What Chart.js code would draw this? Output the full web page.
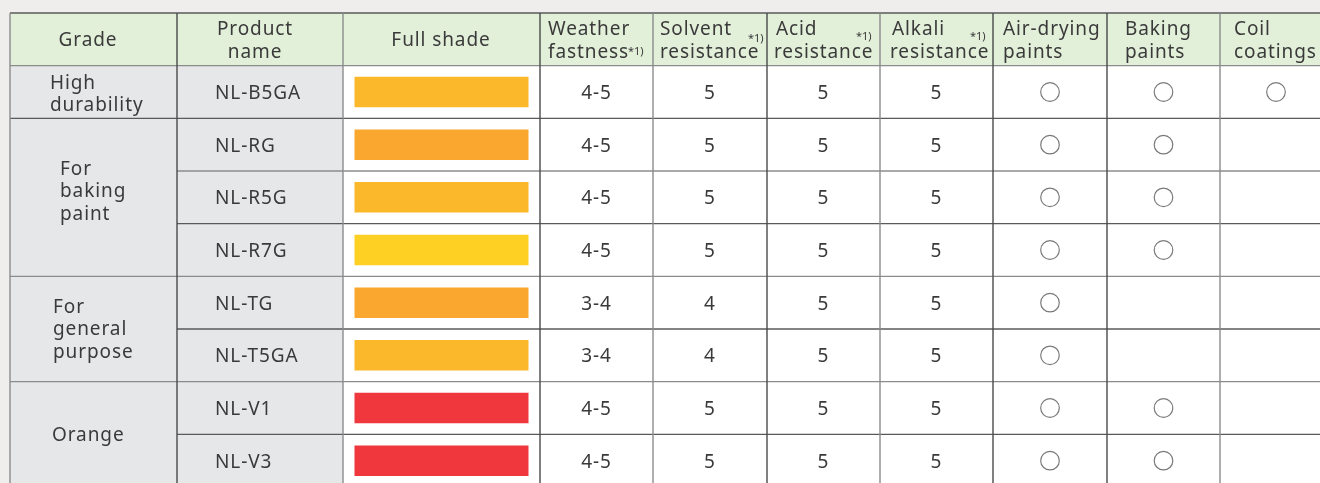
<!DOCTYPE html>
<html>
<head>
<meta charset="utf-8">
<script src="https://cdn.jsdelivr.net/npm/chart.js@4"></script>
<style>
  html, body { margin: 0; padding: 0; background: #efeeed; overflow: hidden; }
  #wrap { position: relative; width: 1320px; height: 500px; }
</style>
</head>
<body>
<div id="wrap"><canvas id="table"></canvas></div>
<script>
// --- data ---
const products = ['NL-B5GA', 'NL-RG', 'NL-R5G', 'NL-R7G', 'NL-TG', 'NL-T5GA', 'NL-V1', 'NL-V3'];
const shadeColors = ['#fbb82b', '#f9a72f', '#fbb82b', '#fed023', '#f9a72f', '#fbb82b', '#ef373d', '#ef373d'];
const weather = ['4-5', '4-5', '4-5', '4-5', '3-4', '3-4', '4-5', '4-5'];
const solvent = [5, 5, 5, 5, 4, 4, 5, 5];
const acid = [5, 5, 5, 5, 5, 5, 5, 5];
const alkali = [5, 5, 5, 5, 5, 5, 5, 5];
const airDrying = [1, 1, 1, 1, 1, 1, 1, 1];
const baking = [1, 1, 1, 1, 0, 0, 1, 1];
const coil = [1, 0, 0, 0, 0, 0, 0, 0];
const grades = [['High', 'durability'], ['For', 'baking', 'paint'], ['For', 'general', 'purpose'], ['Orange']];
const gradeSpans = [1, 3, 2, 2];
const headers = [['Grade'], ['Product', 'name'], ['Full shade'], ['Weather', 'fastness'], ['Solvent', 'resistance'],
    ['Acid', 'resistance'], ['Alkali', 'resistance'], ['Air-drying', 'paints'], ['Baking', 'paints'], ['Coil', 'coatings']];
const noteMark = '*1)';

// --- layout ---
const colEdges = [10, 177, 343, 540, 653, 767, 880, 993, 1107, 1220, 1332];
const headerX = [[88], [255, 255], [441], [548, 548], [660, 660], [776, 774], [892, 890], [1003, 1003], [1125, 1125], [1234, 1234]];
// x, baseline offset from table top
const noteX = { 3: [628, 42], 4: [748, 29], 5: [856, 27], 6: [970, 27] };
const gradeX = [50, 60, 53, 52];
const gradeDy = [2, -6, 0, 1];
const swatchInset = 11.5;
const FONT = '"Noto Sans", "DejaVu Sans", sans-serif';
const TEXT = '#3a3a3a';
const LINE_DARK = '#4a4a4a';
const LINE_GRAY = '#8c8c8c';
const vLineColors = [LINE_GRAY, LINE_DARK, LINE_GRAY, LINE_DARK, LINE_GRAY, LINE_DARK, LINE_GRAY, LINE_DARK, LINE_DARK, LINE_GRAY];

const rowLabels = [''].concat(products);
const colCenter = (c) => (colEdges[c] + colEdges[c + 1]) / 2;

// circles for the usage columns
const usePoints = [];
[airDrying, baking, coil].forEach((flags, k) => {
    flags.forEach((f, i) => {
        if (f) usePoints.push({ x: colCenter(7 + k), y: products[i] });
    });
});

const drawText = (ctx, str, px, py, align, size) => {
    ctx.font = `${size}px ${FONT}`;
    ctx.letterSpacing = size > 14 ? '0.9px' : '0px';
    ctx.textAlign = align;
    ctx.textBaseline = 'alphabetic';
    ctx.fillStyle = TEXT;
    ctx.fillText(str, px, py);
}

const tablePlugin = {
    id: 'tablePlugin',
    beforeDatasetsDraw(chart) {
        const { ctx, scales: { x, y } } = chart;
        const band = y.getPixelForValue(1) - y.getPixelForValue(0);
        const rowTop = (i) => y.getPixelForValue(i) - band / 2;
        const left = x.getPixelForValue(colEdges[0]);
        const right = x.getPixelForValue(colEdges[colEdges.length - 1]);
        ctx.save();
        // backgrounds
        ctx.fillStyle = '#e2efd9';
        ctx.fillRect(left, rowTop(0), right - left, band);
        ctx.fillStyle = '#e6e7e9';
        ctx.fillRect(left, rowTop(1), x.getPixelForValue(colEdges[2]) - left, band * products.length);
        ctx.fillStyle = '#ffffff';
        ctx.fillRect(x.getPixelForValue(colEdges[2]), rowTop(1), right - x.getPixelForValue(colEdges[2]), band * products.length);

        // horizontal lines
        ctx.lineWidth = 1.4;
        const groupStarts = [];
        let r = 1;
        gradeSpans.forEach(s => { groupStarts.push(r); r += s; });
        for (let k = 0; k <= rowLabels.length; k++) {
            const py = rowTop(k);
            const fullRow = k <= 1 || groupStarts.includes(k) || k === rowLabels.length;
            const x0 = fullRow ? left : x.getPixelForValue(colEdges[1]);
            ctx.strokeStyle = k % 2 ? LINE_GRAY : '#5a5a5a';
            ctx.beginPath();
            ctx.moveTo(x0, py);
            ctx.lineTo(right, py);
            ctx.stroke();
        }
        // vertical lines
        colEdges.slice(0, -1).forEach((e, c) => {
            const px = x.getPixelForValue(e);
            ctx.strokeStyle = vLineColors[c];
            ctx.beginPath();
            ctx.moveTo(px, rowTop(0));
            ctx.lineTo(px, rowTop(rowLabels.length));
            ctx.stroke();
        });
        ctx.restore();
    },
    afterDatasetsDraw(chart) {
        const { ctx, scales: { x, y } } = chart;
        const band = y.getPixelForValue(1) - y.getPixelForValue(0);
        const hy = y.getPixelForValue(0);
        const top = hy - band / 2;
        ctx.save();
        // header
        headers.forEach((lines, c) => {
            const align = c < 3 ? 'center' : 'left';
            if (lines.length === 1) {
                drawText(ctx, lines[0], x.getPixelForValue(headerX[c][0]), hy + 7, align, 19);
            } else {
                lines.forEach((t, j) => {
                    drawText(ctx, t, x.getPixelForValue(headerX[c][j]), hy - 4 + j * 23, align, 19);
                });
            }
            if (noteX[c]) {
                drawText(ctx, noteMark, x.getPixelForValue(noteX[c][0]), top + noteX[c][1], 'left', 11);
            }
        });
        // grade groups
        let r = 1;
        grades.forEach((lines, g) => {
            const center = (y.getPixelForValue(r) + y.getPixelForValue(r + gradeSpans[g] - 1)) / 2;
            const first = center - (lines.length - 1) / 2 * 22.5 + 6 + gradeDy[g];
            lines.forEach((t, j) => {
                drawText(ctx, t, x.getPixelForValue(gradeX[g]), first + j * 22.5, 'left', 19);
            });
            r += gradeSpans[g];
        });
        // rows
        products.forEach((p, i) => {
            const cy = y.getPixelForValue(i + 1) + 7;
            drawText(ctx, p, x.getPixelForValue(colEdges[1] + 38), cy, 'left', 19);
            [weather, solvent, acid, alkali].forEach((vals, k) => {
                drawText(ctx, String(vals[i]), x.getPixelForValue(colCenter(3 + k)), cy, 'center', 19);
            });
        });
        ctx.restore();
    }
};

new Chart(document.getElementById('table'), {
    data: {
        labels: rowLabels,
        datasets: [
            {
                type: 'bar',
                indexAxis: 'y',
                data: [null].concat(products.map(() => [colEdges[2] + swatchInset, colEdges[3] - swatchInset])),
                backgroundColor: ['rgba(0,0,0,0)'].concat(shadeColors),
                borderWidth: 0,
                barPercentage: 0.58,
                categoryPercentage: 1
            },
            {
                type: 'scatter',
                data: usePoints,
                pointRadius: 9.3,
                pointBackgroundColor: 'rgba(255,255,255,0)',
                pointBorderColor: '#7a7a7a',
                pointBorderWidth: 1.2
            }
        ]
    },
    options: {
        responsive: true,
        maintainAspectRatio: false,
        animation: false,
        events: [],
        layout: { autoPadding: false, padding: { top: 13, bottom: 13, left: 0, right: 0 } },
        plugins: { legend: { display: false }, tooltip: { enabled: false } },
        scales: {
            x: { type: 'linear', min: 0, max: 1320, display: false },
            y: { type: 'category', labels: rowLabels, offset: true, display: false }
        }
    },
    plugins: [tablePlugin]
});
</script>
</body>
</html>
